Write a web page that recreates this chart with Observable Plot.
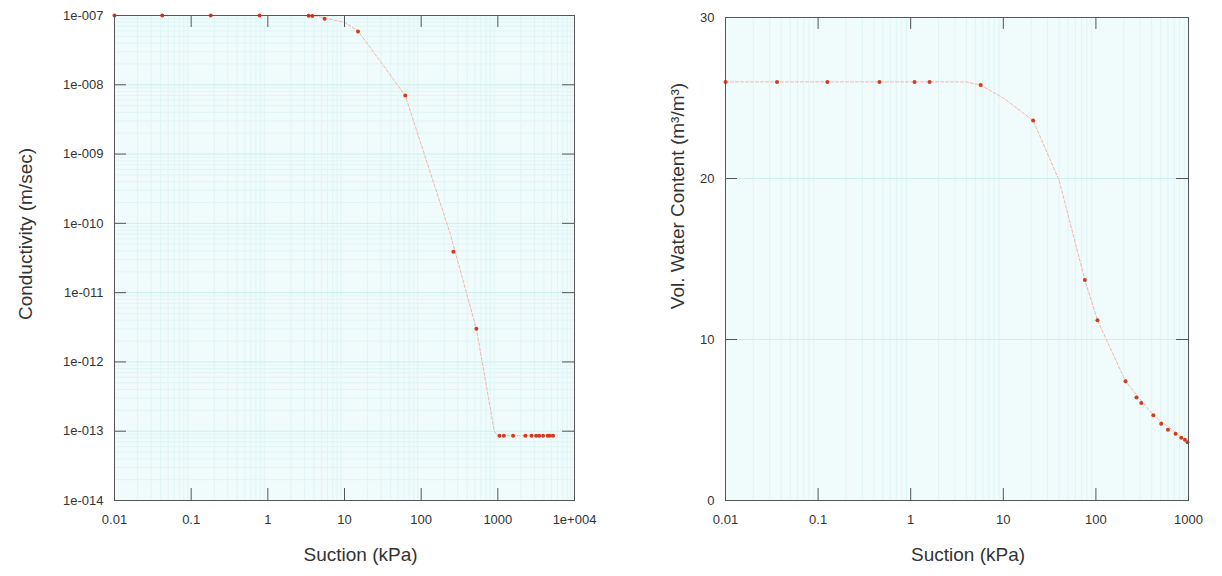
<!DOCTYPE html>
<html>
<head>
<meta charset="utf-8">
<script src="https://cdn.jsdelivr.net/npm/d3@7"></script>
<script src="https://cdn.jsdelivr.net/npm/@observablehq/plot@0.6"></script>
<style>
  html, body { margin: 0; padding: 0; background: #ffffff; }
  #wrap { display: flex; width: 1222px; height: 576px; }
  svg { font-family: "Liberation Sans", Arial, sans-serif; }
</style>
</head>
<body>
<div id="wrap"></div>
<script>
// ---- Left chart: hydraulic conductivity ----
const condSuction = [0.01, 0.042, 0.18, 0.78, 3.4, 3.8, 5.5, 15, 62, 263, 525,
  1050, 1200, 1580, 2290, 2750, 3160, 3470, 3890, 4470, 4790, 5250];
const condValue = [1e-7, 1e-7, 1e-7, 1e-7, 9.9e-8, 9.8e-8, 9e-8, 5.9e-8, 7e-9, 3.9e-11, 3e-12,
  8.6e-14, 8.6e-14, 8.6e-14, 8.6e-14, 8.6e-14, 8.6e-14, 8.6e-14, 8.6e-14, 8.6e-14, 8.6e-14, 8.6e-14];
const condFitSuction = [0.01, 4, 6, 10, 15, 62, 240, 525, 900, 1000, 5250];
const condFitValue = [1e-7, 1e-7, 9e-8, 8e-8, 6e-8, 7e-9, 7e-11, 3e-12, 1e-13, 8.6e-14, 8.6e-14];
const condXTicks = [0.01, 0.1, 1, 10, 100, 1000, 10000];
const condXLabels = ["0.01", "0.1", "1", "10", "100", "1000", "1e+004"];
const condYTicks = [1e-14, 1e-13, 1e-12, 1e-11, 1e-10, 1e-9, 1e-8, 1e-7];
const condYLabels = ["1e-014", "1e-013", "1e-012", "1e-011", "1e-010", "1e-009", "1e-008", "1e-007"];

// ---- Right chart: volumetric water content ----
const vwcSuction = [0.01, 0.036, 0.126, 0.46, 1.1, 1.6, 5.7, 21, 76, 104, 209, 274, 309, 417, 507, 600, 725, 835, 915, 975];
const vwcValue = [26, 26, 26, 26, 26, 26, 25.8, 23.6, 13.7, 11.2, 7.4, 6.4, 6.05, 5.3, 4.76, 4.4, 4.14, 3.9, 3.77, 3.62];
const vwcFitSuction = [0.01, 4, 5.7, 10, 21, 40, 76, 104, 209, 417, 1000];
const vwcFitValue = [26, 26, 25.8, 25, 23.6, 19.9, 13.7, 11.2, 7.4, 5.3, 3.6];
const vwcXTicks = [0.01, 0.1, 1, 10, 100, 1000];
const vwcXLabels = ["0.01", "0.1", "1", "10", "100", "1000"];
const vwcYTicks = [0, 10, 20, 30];
const vwcYLabels = ["0", "10", "20", "30"];

const condRows = condSuction.map((s, i) => ({s, v: condValue[i]}));
const condFit = condFitSuction.map((s, i) => ({s, v: condFitValue[i]}));
const vwcRows = vwcSuction.map((s, i) => ({s, v: vwcValue[i]}));
const vwcFit = vwcFitSuction.map((s, i) => ({s, v: vwcFitValue[i]}));

function minorLog(lo, hi) {
  const out = [];
  for (let e = Math.round(Math.log10(lo)); e < Math.round(Math.log10(hi)); e++) {
    for (let m = 2; m <= 9; m++) out.push(m * Math.pow(10, e));
  }
  return out;
}

const bg = "#f0fbfb";
const gridMinor = "#e0f5f5";
const gridMajor = "#cdeeee";
const frameColor = "#555";
const textColor = "#333";
const dotColor = "#d23a22";
const lineColor = "#f5b4a8";
const TICK = 12;

// inward tick marks on all four sides, drawn with tickX / tickY and pixel insets
function inwardTicks(xt, yt, fw, fh) {
  return [
    Plot.tickX(xt, {x: d => d, insetTop: fh - TICK, stroke: frameColor}),
    Plot.tickX(xt, {x: d => d, insetBottom: fh - TICK, stroke: frameColor}),
    Plot.tickY(yt, {y: d => d, insetRight: fw - TICK, stroke: frameColor}),
    Plot.tickY(yt, {y: d => d, insetLeft: fw - TICK, stroke: frameColor})
  ];
}

const left = Plot.plot({
  width: 611, height: 576,
  marginLeft: 114, marginRight: 37, marginTop: 15, marginBottom: 76,
  style: {fontFamily: "Liberation Sans, Arial, sans-serif", fontSize: "13px", color: textColor, background: "transparent"},
  x: {type: "log", domain: [0.01, 10000]},
  y: {type: "log", domain: [1e-14, 1e-7]},
  marks: [
    Plot.frame({fill: bg}),
    Plot.gridX(minorLog(0.01, 10000), {stroke: gridMinor, strokeOpacity: 1}),
    Plot.gridY(minorLog(1e-14, 1e-7), {stroke: gridMinor, strokeOpacity: 1}),
    Plot.gridY(condYTicks, {stroke: gridMajor, strokeOpacity: 1}),
    Plot.line(condFit, {x: "s", y: "v", stroke: lineColor, strokeWidth: 1, strokeDasharray: "3,2"}),
    Plot.dot(condRows, {x: "s", y: "v", r: 2, fill: dotColor, stroke: "none"}),
    Plot.axisX(condXTicks, {anchor: "bottom", tickSize: 0, tickPadding: 14, label: null,
      tickFormat: d => condXLabels[condXTicks.indexOf(d)], fill: textColor}),
    Plot.axisY(condYTicks, {anchor: "left", tickSize: 0, tickPadding: 11, label: null,
      tickFormat: d => condYLabels[condYTicks.indexOf(d)], fill: textColor}),
    ...inwardTicks(condXTicks.slice(1, -1), condYTicks.slice(1, -1), 460, 485),
    Plot.frame({stroke: frameColor}),
    Plot.text(["Suction (kPa)"], {frameAnchor: "bottom", dy: 60, dx: 16, fontSize: 19, fill: textColor, style: "letter-spacing:1px"}),
    Plot.text(["Conductivity (m/sec)"], {frameAnchor: "left", textAnchor: "middle", rotate: -90, dx: -89, dy: -24, fontSize: 19, fill: textColor})
  ]
});

const right = Plot.plot({
  width: 611, height: 576,
  marginLeft: 114, marginRight: 34, marginTop: 17, marginBottom: 76,
  style: {fontFamily: "Liberation Sans, Arial, sans-serif", fontSize: "13px", color: textColor, background: "transparent"},
  x: {type: "log", domain: [0.01, 1000]},
  y: {type: "linear", domain: [0, 30]},
  marks: [
    Plot.frame({fill: bg}),
    Plot.gridX(minorLog(0.01, 1000), {stroke: gridMinor, strokeOpacity: 1}),
    Plot.gridY([10, 20], {stroke: gridMajor, strokeOpacity: 1}),
    Plot.line(vwcFit, {x: "s", y: "v", stroke: lineColor, strokeWidth: 1, strokeDasharray: "3,2"}),
    Plot.dot(vwcRows, {x: "s", y: "v", r: 2, fill: dotColor, stroke: "none"}),
    Plot.axisX(vwcXTicks, {anchor: "bottom", tickSize: 0, tickPadding: 14, label: null,
      tickFormat: d => vwcXLabels[vwcXTicks.indexOf(d)], fill: textColor}),
    Plot.axisY(vwcYTicks, {anchor: "left", tickSize: 0, tickPadding: 11, label: null,
      tickFormat: d => vwcYLabels[vwcYTicks.indexOf(d)], fill: textColor}),
    ...inwardTicks(vwcXTicks.slice(1, -1), vwcYTicks.slice(1, -1), 463, 483),
    Plot.frame({stroke: frameColor}),
    Plot.text(["Suction (kPa)"], {frameAnchor: "bottom", dy: 60, dx: 11, fontSize: 19, fill: textColor, style: "letter-spacing:1px"}),
    Plot.text(["Vol. Water Content (m³/m³)"], {frameAnchor: "left", textAnchor: "middle", rotate: -90, dx: -48, dy: -63, fontSize: 19, fill: textColor})
  ]
});

document.getElementById("wrap").append(left, right);
</script>
</body>
</html>
